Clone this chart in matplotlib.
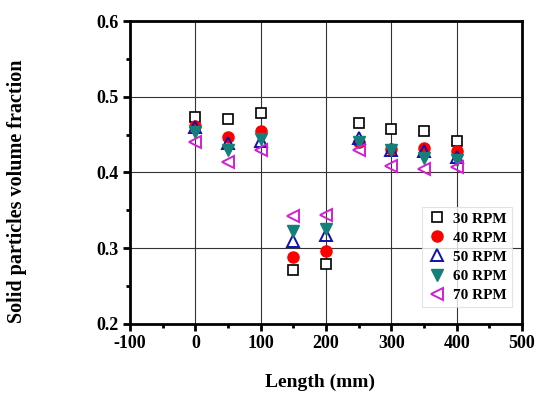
import matplotlib
matplotlib.use("Agg")
import matplotlib.pyplot as plt
from matplotlib.ticker import MultipleLocator

plt.rcParams['font.family'] = ['Liberation Serif', 'DejaVu Serif']
plt.rcParams['font.weight'] = 'bold'

length = [0, 50, 100, 150, 200, 250, 300, 350, 400]
rpm30 = [0.473, 0.470, 0.479, 0.271, 0.279, 0.465, 0.457, 0.455, 0.441]
rpm40 = [0.462, 0.447, 0.455, 0.288, 0.296, 0.440, 0.431, 0.432, 0.428]
rpm50 = [0.460, 0.439, 0.441, 0.310, 0.318, 0.445, 0.430, 0.428, 0.420]
rpm60 = [0.454, 0.430, 0.444, 0.3225, 0.325, 0.440, 0.430, 0.419, 0.417]
rpm70 = [0.440, 0.414, 0.430, 0.342, 0.344, 0.430, 0.408, 0.405, 0.407]
labels = ['30 RPM', '40 RPM', '50 RPM', '60 RPM', '70 RPM']

fig = plt.figure(figsize=(5.4, 3.94), dpi=100)
ax = fig.add_axes([0.2407, 0.1777, 0.7260, 0.7690])

ms = 8
ax.plot(length, rpm30, 's', ms=ms-0.5, mfc='white', mec='black', mew=1.2, label=labels[0], zorder=3)
ax.plot(length, rpm40, 'o', ms=ms, mfc='red', mec='red', label=labels[1], zorder=3)
ax.plot(length, rpm50, '^', ms=ms, mfc='none', mec='#1010b0', mew=1.4, label=labels[2], zorder=3)
ax.plot(length, rpm60, 'v', ms=ms, mfc='#157f7a', mec='#157f7a', label=labels[3], zorder=3)
ax.plot(length, rpm70, '<', ms=ms+0.5, mfc='none', mec='#d020d0', mew=1.4, label=labels[4], zorder=3)

ax.set_xlim(-100, 500)
ax.set_ylim(0.2, 0.6)
ax.xaxis.set_minor_locator(MultipleLocator(50))
ax.yaxis.set_minor_locator(MultipleLocator(0.05))
ax.set_xticks([-100, 0, 100, 200, 300, 400, 500])
ax.set_xticklabels(['-100', '0', '100', '200', '300', '400', '500'])
ax.set_yticks([0.2, 0.3, 0.4, 0.5, 0.6])
ax.set_yticklabels(['0.2', '0.3', '0.4', '0.5', '0.6'])

ax.grid(True, which='major', color='#333333', lw=0.8)
ax.set_axisbelow(True)
for s in ax.spines.values():
    s.set_linewidth(2)
ax.tick_params(which='major', direction='out', length=5, width=2, labelsize=13, pad=3)
ax.tick_params(which='minor', direction='out', length=3, width=2)
for lab in ax.get_xticklabels() + ax.get_yticklabels():
    lab.set_fontweight('bold')

ax.set_xlabel('Length (mm)', fontsize=14, fontweight='bold')
ax.xaxis.set_label_coords(0.485, -0.163)
ax.set_ylabel('Solid particles volume fraction', fontsize=14.5, fontweight='bold')
ax.yaxis.set_label_coords(-0.262, 0.439)

leg = ax.legend(loc='lower right', bbox_to_anchor=(0.995, 0.03), fontsize=11, frameon=True,
                fancybox=False, edgecolor='#dddddd', handletextpad=0.5, labelspacing=0.35,
                borderpad=0.35, handlelength=1.2)
leg.get_frame().set_linewidth(0.8)
for t in leg.get_texts():
    t.set_fontweight('bold')

fig.savefig('out.png', dpi=100)
